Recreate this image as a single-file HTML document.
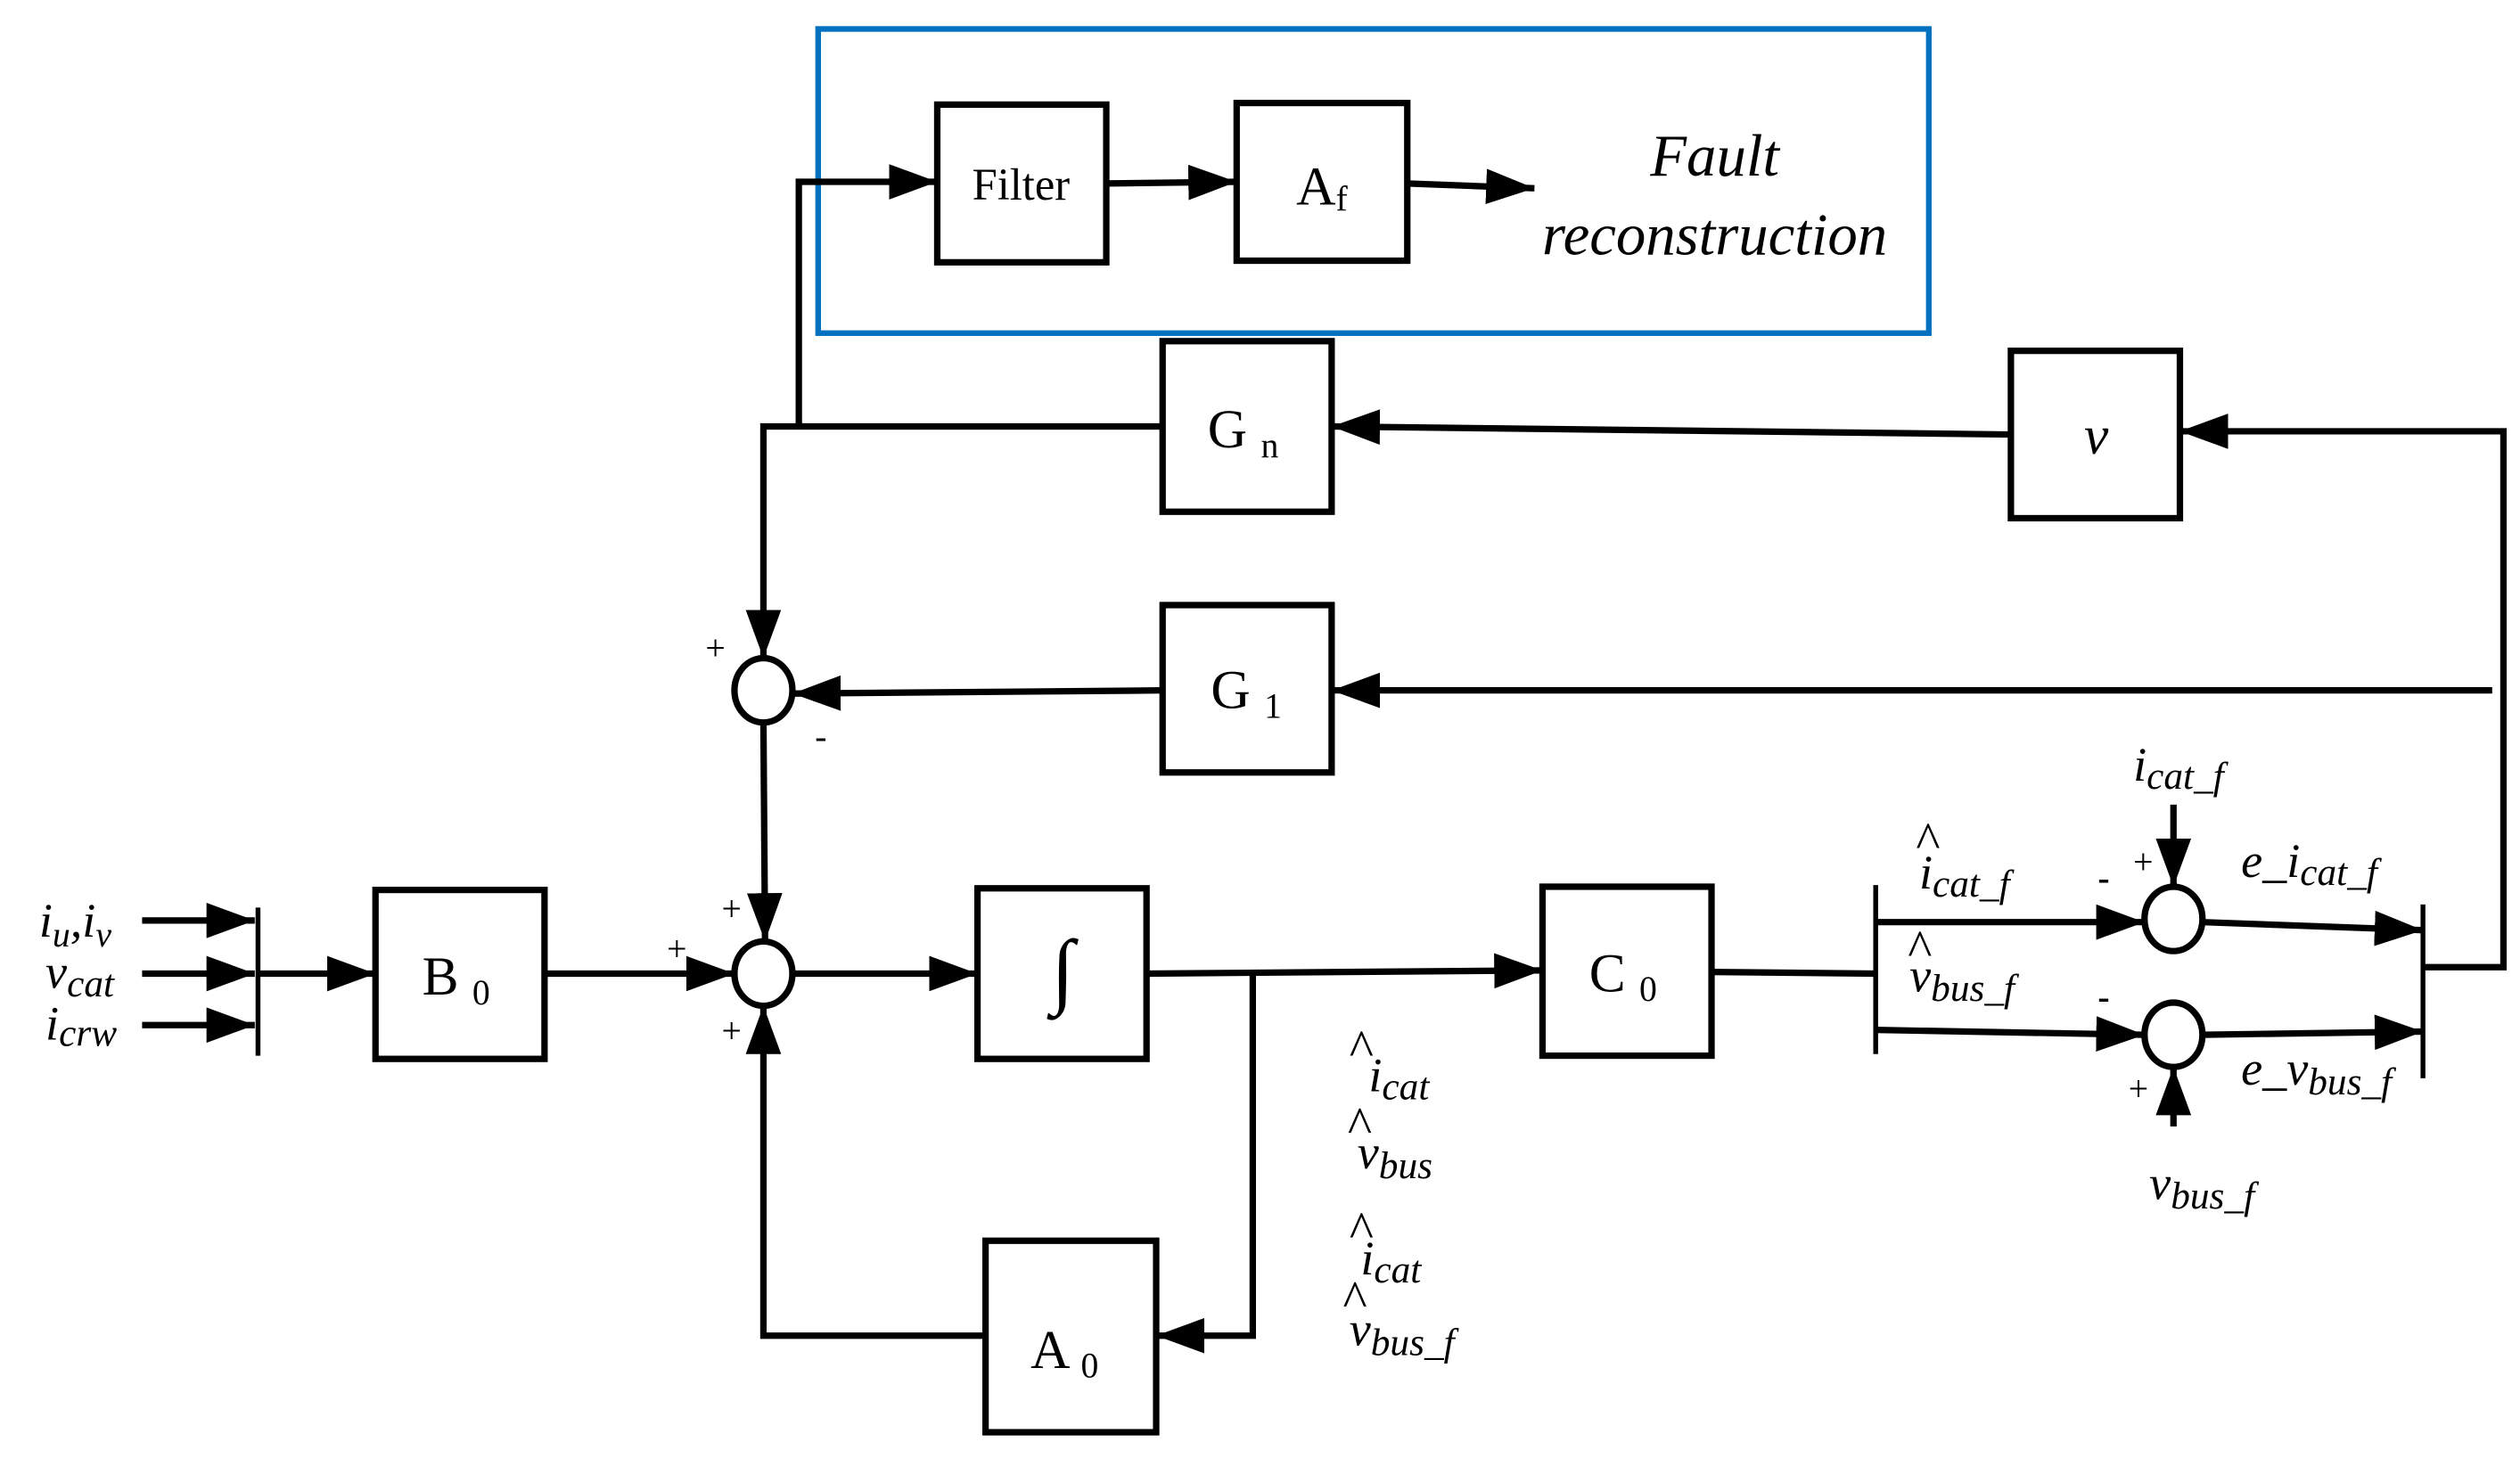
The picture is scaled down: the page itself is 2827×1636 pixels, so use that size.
<!DOCTYPE html>
<html><head><meta charset="utf-8"><style>html,body{margin:0;padding:0;background:#fff}svg{display:block}</style></head>
<body>
<svg width="2827" height="1636" viewBox="0 0 1565 906" xmlns="http://www.w3.org/2000/svg" font-family="'Liberation Serif', serif">
<defs>
<marker id="a" markerUnits="userSpaceOnUse" markerWidth="30" markerHeight="22" refX="30" refY="11" orient="auto">
<path d="M0,0 L30,11 L0,22 z" fill="#000"/></marker>
</defs>
<rect x="508" y="18" width="690" height="189" fill="none" stroke="#0070c0" stroke-width="3.5"/>
<g fill="none" stroke="#000" stroke-width="4">
<rect x="582" y="65" width="105" height="98"/>
<rect x="768" y="64" width="106" height="98"/>
<rect x="722" y="212" width="105" height="106"/>
<rect x="1249" y="218" width="105" height="104"/>
<rect x="722" y="376" width="105" height="104"/>
<rect x="233" y="553" width="105" height="105"/>
<rect x="607" y="552" width="105" height="106"/>
<rect x="958" y="551" width="105" height="105"/>
<rect x="612" y="771" width="106" height="119"/>
<ellipse cx="474" cy="429" rx="18" ry="20"/>
<ellipse cx="474" cy="605" rx="18" ry="20"/>
<ellipse cx="1350" cy="571" rx="18" ry="20"/>
<ellipse cx="1350" cy="643" rx="18" ry="20"/>
<polyline points="496,265 496,113 582,113" marker-end="url(#a)"/>
<line x1="687" y1="114" x2="768" y2="113" marker-end="url(#a)"/>
<line x1="874" y1="114" x2="953" y2="117" marker-end="url(#a)"/>
<polyline points="1505,601 1555,601 1555,268 1354,268" marker-end="url(#a)"/>
<line x1="1249" y1="270" x2="827" y2="265" marker-end="url(#a)"/>
<polyline points="722,265 474,265 474,409" marker-end="url(#a)"/>
<line x1="1548" y1="429" x2="827" y2="429" marker-end="url(#a)"/>
<line x1="722" y1="429" x2="492" y2="431" marker-end="url(#a)"/>
<line x1="474" y1="449" x2="475" y2="585" marker-end="url(#a)"/>
<line x1="88" y1="572" x2="158" y2="572" marker-end="url(#a)"/>
<line x1="88" y1="605" x2="158" y2="605" marker-end="url(#a)"/>
<line x1="88" y1="637" x2="158" y2="637" marker-end="url(#a)"/>
<line x1="160" y1="564" x2="160" y2="656" stroke-width="3"/>
<line x1="160" y1="605" x2="233" y2="605" marker-end="url(#a)"/>
<line x1="338" y1="605" x2="456" y2="605" marker-end="url(#a)"/>
<line x1="492" y1="605" x2="607" y2="605" marker-end="url(#a)"/>
<line x1="712" y1="605" x2="958" y2="603" marker-end="url(#a)"/>
<polyline points="778,605 778,830 718,830" marker-end="url(#a)"/>
<polyline points="612,830 474,830 474,625" marker-end="url(#a)"/>
<line x1="1063" y1="604" x2="1165" y2="605"/>
<line x1="1165" y1="550" x2="1165" y2="655" stroke-width="3"/>
<line x1="1165" y1="573" x2="1332" y2="573" marker-end="url(#a)"/>
<line x1="1165" y1="640" x2="1332" y2="643" marker-end="url(#a)"/>
<line x1="1368" y1="573" x2="1505" y2="578" marker-end="url(#a)"/>
<line x1="1368" y1="643" x2="1505" y2="641" marker-end="url(#a)"/>
<line x1="1505" y1="562" x2="1505" y2="670" stroke-width="3"/>
<line x1="1350" y1="500" x2="1350" y2="551" marker-end="url(#a)"/>
<line x1="1350" y1="700" x2="1350" y2="663" marker-end="url(#a)"/>
</g>
<g fill="#000" font-size="34">
<text x="634" y="124" text-anchor="middle" font-size="28">Filter</text>
<text x="805" y="127">A<tspan font-size="22" dy="4">f</tspan></text>
<text x="1065" y="109" text-anchor="middle" font-style="italic" font-size="37">Fault</text>
<text x="1065" y="158" text-anchor="middle" font-style="italic" font-size="37">reconstruction</text>
<text x="750" y="278">G <tspan font-size="22" dy="6">n</tspan></text>
<text x="1302" y="282" text-anchor="middle" font-style="italic">v</text>
<text x="752" y="440">G <tspan font-size="22" dy="6">1</tspan></text>
<text x="262" y="618">B <tspan font-size="22" dy="6">0</tspan></text>
<text x="987" y="616">C <tspan font-size="22" dy="6">0</tspan></text>
<text x="640" y="850">A <tspan font-size="22" dy="6">0</tspan></text>
<text x="660" y="620" text-anchor="middle" font-size="52">∫</text>
<g font-size="22"><text x="438" y="410">+</text><text x="506" y="465">-</text><text x="448" y="572">+</text><text x="414" y="597">+</text><text x="448" y="648">+</text>
<text x="1303" y="553" font-weight="bold">-</text><text x="1325" y="543">+</text><text x="1303" y="627" font-weight="bold">-</text><text x="1322" y="684">+</text></g>
<g font-style="italic" font-size="30">
<text x="24" y="582">i<tspan font-size="22" dy="6">u</tspan><tspan dy="-6">,i</tspan><tspan font-size="22" dy="6">v</tspan></text>
<text x="28" y="614">v<tspan font-size="24" dy="5">cat</tspan></text>
<text x="28" y="646">i<tspan font-size="24" dy="4">crw</tspan></text>
<text x="1325" y="485">i<tspan font-size="24" dy="5">cat_f</tspan></text>
<text x="1192" y="552">i<tspan font-size="24" dy="5">cat_f</tspan></text>
<text x="1186" y="616">v<tspan font-size="24" dy="6">bus_f</tspan></text>
<text x="1392" y="545">e_i<tspan font-size="24" dy="5">cat_f</tspan></text>
<text x="1392" y="674">e_v<tspan font-size="24" dy="6">bus_f</tspan></text>
<text x="1335" y="745">v<tspan font-size="24" dy="6">bus_f</tspan></text>
<text x="850" y="678">i<tspan font-size="24" dy="5">cat</tspan></text>
<text x="843" y="726">v<tspan font-size="24" dy="6">bus</tspan></text>
<text x="845" y="792">i<tspan font-size="24" dy="5">cat</tspan></text>
<text x="838" y="836">v<tspan font-size="24" dy="6">bus_f</tspan></text>
</g>
<g font-size="32"><text x="1190" y="533">^</text><text x="1185" y="600">^</text><text x="838" y="662">^</text><text x="837" y="710">^</text><text x="838" y="775">^</text><text x="834" y="818">^</text></g>
</g>
</svg>
</body></html>
